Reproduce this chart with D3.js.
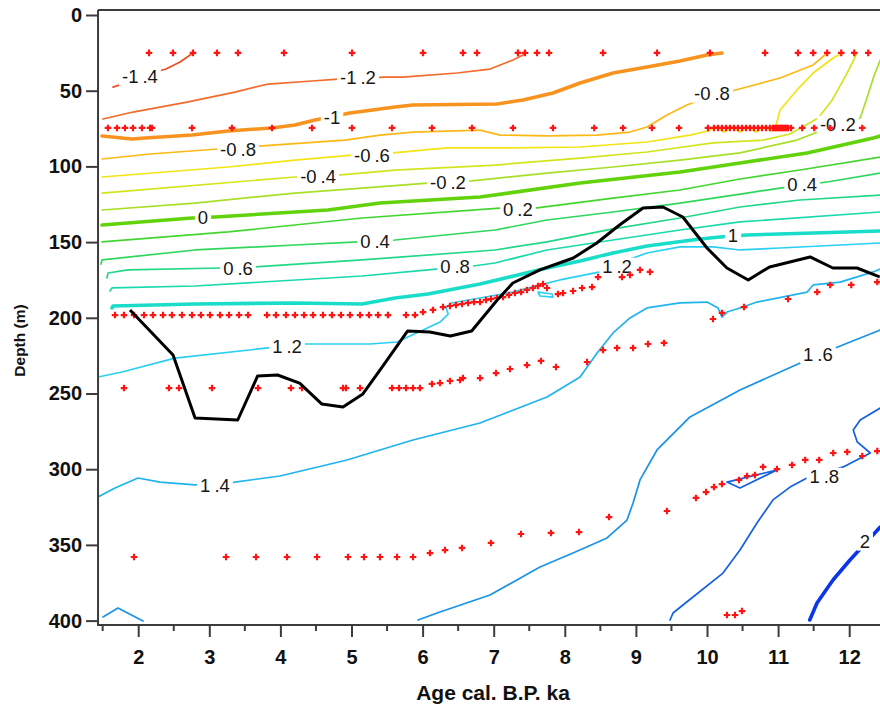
<!DOCTYPE html>
<html><head><meta charset="utf-8">
<script src="https://cdn.jsdelivr.net/npm/d3@7"></script>
<style>
html,body{margin:0;padding:0;background:#fff;}
svg{display:block;font-family:"Liberation Sans",Arial,Helvetica,sans-serif;}
</style></head><body>
<svg id="chart" width="880" height="708"></svg>
<script>
// ---------------- DATA ----------------
const xTicks = [2,3,4,5,6,7,8,9,10,11,12];
const xMinorTicks = [1.5,2.5,3.5,4.5,5.5,6.5,7.5,8.5,9.5,10.5,11.5,12.5];
const yTicks = [0,50,100,150,200,250,300,350,400];

// contour polylines [age ka, depth m], one array of segments per level
const cM14 = [[[1.645,47.6],[1.828,44.9],[2.025,40.6],[2.391,35.7],[2.588,31.0],[2.771,25.1]]];
const cM12 = [[[1.505,68.7],[1.927,64.1],[2.686,57.5],[3.361,50.9],[3.826,45.6],[4.445,43.6],[4.810,42.3],[5.471,41.0],[5.724,41.0],[6.484,38.3],[6.948,35.7],[7.271,29.7],[7.468,25.1]]];
const cM10 = [[[1.491,79.9],[1.913,81.9],[2.096,81.2],[2.757,79.3],[3.263,76.6],[3.882,74.6],[4.205,72.7],[4.487,69.4],[4.979,64.7],[5.612,60.8],[5.865,59.4],[7.046,58.8],[7.412,56.1],[7.834,51.5],[8.215,44.9],[8.679,38.3],[9.156,34.3],[9.620,30.4],[10.0,26.4],[10.211,25.1]]];
const cM08 = [[[1.491,95.1],[2.166,91.8],[3.122,88.5],[3.741,86.5],[4.909,82.6],[5.401,79.3],[5.865,77.3],[6.808,76.0],[7.089,79.3],[7.750,79.9],[8.454,79.3],[8.917,77.3],[9.156,74.0],[9.437,66.1],[9.719,59.4],[9.901,56.1],[10.506,48.2],[11.027,41.6],[11.493,33.0],[11.690,25.1]]];
const cM06 = [[[1.491,107.0],[3.263,100.4],[4.205,95.8],[5.007,92.5],[5.584,91.1],[6.343,87.8],[7.271,87.8],[8.215,87.2],[9.156,83.9],[9.761,79.3],[10.014,76.6],[10.127,74.0],[10.239,77.3],[10.352,74.0],[10.464,77.3],[10.577,74.0],[10.689,77.3],[10.802,74.0],[10.914,76.6],[10.970,73.3],[11.027,62.7],[11.266,49.5],[11.493,38.3],[11.775,28.4],[11.902,25.1]]];
const cM04 = [[[1.491,117.6],[4.205,107.0],[4.810,105.7],[5.612,102.4],[7.019,99.1],[8.215,94.5],[9.156,90.5],[10.084,84.5],[10.788,82.6],[11.168,78.6],[11.564,68.0],[11.761,56.1],[11.958,39.6],[12.099,26.4]]];
const cM02 = [[[1.491,128.8],[2.799,124.2],[4.205,117.6],[6.076,111.0],[6.695,109.6],[7.750,104.4],[8.679,100.4],[9.620,95.8],[10.464,91.1],[11.266,82.6],[11.522,77.9],[11.873,73.3],[12.155,68.0],[12.240,56.1],[12.353,39.6],[12.437,29.7]]];
const c00 = [[[1.491,138.7],[2.757,134.1],[3.080,133.4],[4.670,128.8],[5.401,124.2],[6.808,120.2],[8.215,111.0],[9.620,103.7],[10.464,97.8],[11.409,91.1],[12.339,81.2],[12.437,79.9]]];
const c02 = [[[1.491,149.9],[3.263,143.3],[5.148,134.1],[7.089,127.5],[7.581,127.5],[8.679,120.9],[9.620,115.6],[10.464,108.3],[11.308,102.4],[12.437,93.8]]];
const c04 = [[[1.477,164.5],[1.491,161.8],[2.799,155.2],[4.205,151.9],[5.091,149.9],[5.612,148.6],[7.019,142.0],[7.750,135.4],[8.679,130.1],[9.620,124.2],[10.563,117.6],[11.027,114.3],[11.690,110.3],[12.437,104.4]]];
const c06 = [[[1.561,173.7],[1.575,170.4],[1.856,168.4],[3.179,167.1],[3.643,166.4],[5.148,161.8],[7.019,155.2],[7.750,149.9],[8.679,141.3],[9.620,134.1],[10.464,126.8],[11.308,122.2],[12.437,118.9]]];
const c08 = [[[1.603,182.3],[1.631,180.3],[2.799,179.0],[5.148,172.4],[6.076,168.4],[6.710,165.8],[7.019,163.8],[7.750,155.2],[8.679,148.6],[9.620,142.0],[10.464,136.7],[12.437,130.1]]];
const c10 = [[[1.631,193.5],[1.645,192.2],[2.799,190.9],[4.205,190.2],[5.148,190.9],[5.612,186.9],[6.076,184.3],[6.808,177.7],[7.750,167.1],[8.215,162.5],[8.679,157.2],[9.156,152.6],[9.901,148.0],[10.183,146.6],[10.563,145.3],[11.493,144.0],[12.437,142.7]]];
const c12 = [
  [[1.435,239.1],[1.772,235.8],[2.518,226.6],[3.826,219.9],[4.346,217.3],[5.260,217.3],[5.640,216.0],[6.006,208.1],[6.245,202.8],[6.360,197.5],[6.330,193.5],[6.410,190.2],[6.808,186.9],[7.271,183.0],[7.651,178.3],[7.932,175.0],[8.496,169.7],[8.960,160.5],[9.156,157.2],[9.620,153.2],[10.084,153.2],[10.464,155.2],[11.027,153.9],[12.437,150.6]],
  [[7.623,183.0],[7.820,184.3],[7.834,186.3],[7.651,185.6],[7.623,183.0]]
];
const c14 = [[[1.435,318.4],[1.674,312.4],[1.997,305.8],[2.307,308.5],[2.799,310.4],[3.361,308.5],[3.994,304.5],[4.937,293.9],[5.865,280.7],[6.808,269.5],[7.750,252.3],[8.215,239.1],[8.454,223.2],[8.679,210.0],[8.917,200.1],[9.156,193.5],[9.620,190.2],[10.0,189.6],[10.155,193.5],[10.211,199.5],[10.281,196.2],[10.464,193.5],[10.703,189.6],[11.409,183.0],[11.493,178.3],[11.873,176.4],[12.339,169.7],[12.437,167.8]]];
const c16 = [
  [[5.935,399.6],[6.245,394.3],[6.948,383.1],[7.651,364.6],[8.116,355.4],[8.594,345.4],[8.875,333.6],[8.960,322.3],[9.058,307.1],[9.297,287.3],[9.761,265.5],[10.464,247.7],[11.280,230.5],[11.803,219.9],[12.437,208.1]],
  [[1.505,397.6],[1.716,391.7],[2.068,400.3]]
];
const c18 = [
  [[9.480,399.6],[9.522,395.0],[9.803,384.4],[10.225,368.6],[10.464,353.4],[10.703,335.5],[10.928,320.3],[11.168,311.8],[11.406,305.8],[11.916,298.5],[12.296,289.3],[12.113,282.0],[12.057,274.1],[12.155,267.5],[12.437,259.6]],
  [[10.281,308.5],[10.984,300.5],[10.464,312.4],[10.281,308.5]]
];
const c20 = [[[11.445,399.6],[11.547,388.4],[11.772,373.2],[12.011,360.0],[12.437,338.2]]];

const levels  = [-1.4,-1.2,-1,-0.8,-0.6,-0.4,-0.2,0,0.2,0.4,0.6,0.8,1,1.2,1.4,1.6,1.8,2];
const contourSets = [cM14,cM12,cM10,cM08,cM06,cM04,cM02,c00,c02,c04,c06,c08,c10,c12,c14,c16,c18,c20];
const levelColors = ["#ef4b23","#f26b2a","#f7931e","#fcb814","#f3e414","#d2e51c","#a9df27","#62d20a","#44d630","#2fd75c","#22d886","#1ad9ac","#19dcc9","#2acff2","#1fb3ef","#1a93e6","#1560e0","#0b36e6"];
const thickLevels = [-1,0,1,2];

// contour labels [level, age, depth]
const contourLabels = [
  [-1.4,2.025,40.3],[-1.2,5.091,41.0],[-1,4.726,67.4],[-0.8,3.404,88.5],[-0.8,10.07,51.5],
  [-0.6,5.288,92.5],[-0.4,4.530,106.3],[-0.2,6.357,110.3],[-0.2,11.84,72.0],[0,2.911,133.4],
  [0.2,7.341,128.1],[0.4,5.331,149.3],[0.4,11.339,111.6],[0.6,3.404,167.1],[0.8,6.456,165.8],
  [1,10.366,145.3],[1.2,4.093,218.6],[1.2,8.735,165.8],[1.4,3.080,310.4],[1.6,11.56,223.9],
  [1.8,11.65,304.5],[2,12.22,347.4]
];

// sample positions (red crosses)
const row25Ages = [2.152,2.489,2.771,3.108,3.404,4.051,5.007,6.006,6.568,6.765,7.341,7.440,7.609,7.778,8.538,9.297,10.042,10.816,11.280,11.493,11.690,11.888,12.071,12.268];
const row25Depth = 25;
const row75Ages = [1.575,1.702,1.814,1.927,2.053,2.166,2.194,2.757,3.319,3.882,4.445,5.007,5.570,6.132,6.695,7.271,7.834,8.414,8.819,9.226,9.606,10.014,
  10.098,10.155,10.211,10.267,10.323,10.380,10.436,10.492,10.549,10.605,10.661,10.717,10.774,10.830,10.886,10.928,10.949,10.970,10.991,11.013,11.034,11.055,11.076,11.097,11.118,11.140,11.182,11.339,11.508,11.733,12.184];
const row75Depth = 74.6;
const row200Ages = [1.674,1.800,1.941,2.082,2.208,2.349,2.475,2.616,2.757,2.883,3.010,3.151,3.277,3.418,3.545,
  3.812,3.938,4.079,4.205,4.333,4.459,4.599,4.726,4.852,4.979,5.120,5.246,5.373,5.513,5.767,5.893];
const row200Depth = 198.2;
const slopeSamplesA = [[6.006,196.2],[6.146,194.8],[6.287,192.9],[6.385,192.2],[6.470,191.5],[6.554,190.9],[6.639,190.2],[6.724,189.6],[6.808,189.6],[6.892,188.2],[6.962,187.6],[7.046,186.9],[7.131,186.3],[7.215,184.9],[7.299,183.6],[7.384,183.0],[7.468,181.6],[7.553,180.3],[7.623,179.0],[7.693,177.7],[7.750,180.3],[7.904,184.3],[7.975,183.6],[8.116,182.3],[8.243,180.3],[8.383,179.7],[8.468,173.1],[8.805,173.1],[8.917,171.7],[9.058,168.4],[9.198,169.7],
  [10.084,200.8],[10.211,196.8],[10.520,192.9],[11.140,187.6],[11.550,183.0],[11.733,178.3],[12.029,178.3],[12.395,176.4]];
const row250Ages = [1.800,2.433,2.574,3.038,3.685,4.149,4.304,4.880,4.922,5.120,5.570,5.668,5.767,5.865,5.963];
const row250Depth = 246.4;
const slopeSamplesB = [[6.132,243.7],[6.245,243.1],[6.385,241.7],[6.526,241.1],[6.568,239.8],[6.808,239.8],[7.032,236.5],[7.229,233.8],[7.468,231.2],[7.665,228.5],[7.876,232.5],[8.313,229.2],[8.538,221.3],[8.735,219.9],[8.960,219.9],[9.170,217.3],[9.395,216.6]];
const slopeSamplesC = [[9.437,327.6],[9.845,319.0],[9.986,315.1],[10.098,311.8],[10.211,309.8],[10.450,307.1],[10.563,304.5],[10.675,303.8],[10.788,298.5],[10.984,299.9],[11.196,297.2],[11.381,293.9],[11.578,293.9],[11.775,289.3],[11.972,288.6],[12.184,291.3],[12.395,288.0],
  [10.281,396.3],[10.394,396.3],[10.492,393.7]];
const row350Ages = [1.941,3.235,3.657,4.093,4.515,4.951,5.176,5.401,5.640,5.865];
const row350Depth = 358.0;
const slopeSamplesD = [[6.104,355.4],[6.315,353.4],[6.554,352.0],[6.962,348.7],[7.384,342.8],[7.806,342.1],[8.200,341.5],[8.622,331.6]];

// black track [age, depth]
const trackAges   = [1.885,2.49,2.80,3.40,3.68,3.96,4.27,4.58,4.88,5.16,5.40,5.79,6.10,6.39,6.69,7.05,7.27,7.65,8.12,8.45,8.77,9.10,9.38,9.66,10.0,10.28,10.58,10.88,11.45,11.77,12.11,12.43];
const trackDepths = [194.8,224.6,266.2,267.5,238.4,237.8,243.1,256.9,258.9,250.3,234.5,208.7,209.4,212.0,208.7,188.2,177.0,168.4,160.5,150.6,138.7,127.5,126.8,133.4,153.9,167.1,175.0,166.4,159.8,167.1,167.1,173.0];

// ---------------- DRAW ----------------
const W = 880, H = 708;
const svg = d3.select("#chart");
const x = d3.scaleLinear().domain([2,12]).range([138.2,849.2]);
const y = d3.scaleLinear().domain([0,400]).range([15,620.6]);
const ageMin = 1.435, depthTop = -3.3, depthBottom = 402.9;
const X0 = x(ageMin), Y0 = y(depthTop), Y1 = y(depthBottom);

const defs = svg.append("defs");
defs.append("clipPath").attr("id","plotClip").append("rect")
  .attr("x",X0).attr("y",Y0).attr("width",W-X0).attr("height",Y1-Y0);

const line = d3.line().x(d=>x(d[0])).y(d=>y(d[1]));

// labels first (measured for mask), drawn on top
const labelG = svg.append("g").attr("class","labels");
contourLabels.forEach(l => {
  const s = String(l[0]);
  const parts = s.split(".");
  const t = labelG.append("text")
    .attr("x", x(l[1])).attr("y", y(l[2]))
    .attr("text-anchor","middle").attr("dy","0.36em")
    .style("font-size","18.5px").attr("fill","#161616");
  t.append("tspan").text(parts[0]);
  if (parts.length > 1) t.append("tspan").attr("dx", 4).text("." + parts[1]);
});

const mask = defs.append("mask").attr("id","lblMask").attr("maskUnits","userSpaceOnUse")
  .attr("x",0).attr("y",0).attr("width",W).attr("height",H);
mask.append("rect").attr("x",0).attr("y",0).attr("width",W).attr("height",H).attr("fill","#fff");
labelG.selectAll("text").each(function(){
  const b = this.getBBox();
  mask.append("rect").attr("x",b.x-3).attr("y",b.y+2).attr("width",b.width+6).attr("height",b.height-3).attr("fill","#000");
});

const contourG = svg.insert("g", ".labels").attr("clip-path","url(#plotClip)")
  .append("g").attr("mask","url(#lblMask)");
levels.forEach((lv, i) => {
  contourSets[i].forEach(seg => {
    contourG.append("path").attr("d", line(seg))
      .attr("fill","none").attr("stroke", levelColors[i])
      .attr("stroke-width", thickLevels.includes(lv) ? 3.6 : 1.7)
      .attr("stroke-linejoin","round").attr("stroke-linecap","round");
  });
});

// samples
const samples = []
  .concat(row25Ages.map(a => [a,row25Depth]))
  .concat(row75Ages.map(a => [a,row75Depth]))
  .concat(row200Ages.map(a => [a,row200Depth]))
  .concat(slopeSamplesA)
  .concat(row250Ages.map(a => [a,row250Depth]))
  .concat(slopeSamplesB)
  .concat(slopeSamplesC)
  .concat(row350Ages.map(a => [a,row350Depth]))
  .concat(slopeSamplesD);
const cross = d3.symbol().type(d3.symbolCross).size(24);
svg.append("g").attr("clip-path","url(#plotClip)")
  .selectAll("path").data(samples).join("path")
  .attr("d", cross).attr("transform", d => `translate(${x(d[0])},${y(d[1])})`)
  .attr("fill","#ff1414");

// black track
const track = trackAges.map((a,i) => [a, trackDepths[i]]);
svg.append("g").attr("clip-path","url(#plotClip)").append("path")
  .attr("d", line(track)).attr("fill","none").attr("stroke","#000")
  .attr("stroke-width",3).attr("stroke-linejoin","round");

// frame
const axisColor = "#3c3c3c";
const frame = svg.append("g").attr("stroke",axisColor).attr("stroke-width",2).attr("fill","none");
frame.append("line").attr("x1",X0).attr("x2",X0).attr("y1",Y0).attr("y2",Y1+1);
frame.append("line").attr("x1",X0).attr("x2",W).attr("y1",Y0).attr("y2",Y0);
frame.append("line").attr("x1",X0-1).attr("x2",W).attr("y1",Y1).attr("y2",Y1);

// y axis
const yAxis = d3.axisLeft(y).tickValues(yTicks).tickSize(12).tickPadding(4);
const yg = svg.append("g").attr("transform",`translate(${X0},0)`).call(yAxis);
yg.select(".domain").remove();
yg.selectAll(".tick line").attr("stroke",axisColor).attr("stroke-width",2);
yg.selectAll(".tick text").attr("fill","#111").style("font-size","20px").style("font-weight","bold")
  .style("font-family","'Liberation Sans',Arial,sans-serif");

// x axis
const xAxis = d3.axisBottom(x).tickValues(xTicks).tickSize(12).tickPadding(13);
const xg = svg.append("g").attr("transform",`translate(0,${Y1})`).call(xAxis);
xg.select(".domain").remove();
xg.selectAll(".tick line").attr("stroke",axisColor).attr("stroke-width",2);
xg.selectAll(".tick text").attr("fill","#111").style("font-size","20px").style("font-weight","bold")
  .style("font-family","'Liberation Sans',Arial,sans-serif");
xg.selectAll(".minor").data(xMinorTicks).join("line").attr("class","minor")
  .attr("x1",d=>x(d)).attr("x2",d=>x(d)).attr("y1",0).attr("y2",6)
  .attr("stroke",axisColor).attr("stroke-width",2);

// titles
svg.append("text").attr("x",493).attr("y",700).attr("text-anchor","middle")
  .style("font-size","21px").style("font-weight","bold").attr("fill","#111").text("Age cal. B.P. ka");
svg.append("text").attr("transform",`translate(25,${y(215)}) rotate(-90)`).attr("text-anchor","middle")
  .style("font-size","15.5px").style("font-weight","bold").attr("fill","#111").text("Depth (m)");
</script>
</body></html>
